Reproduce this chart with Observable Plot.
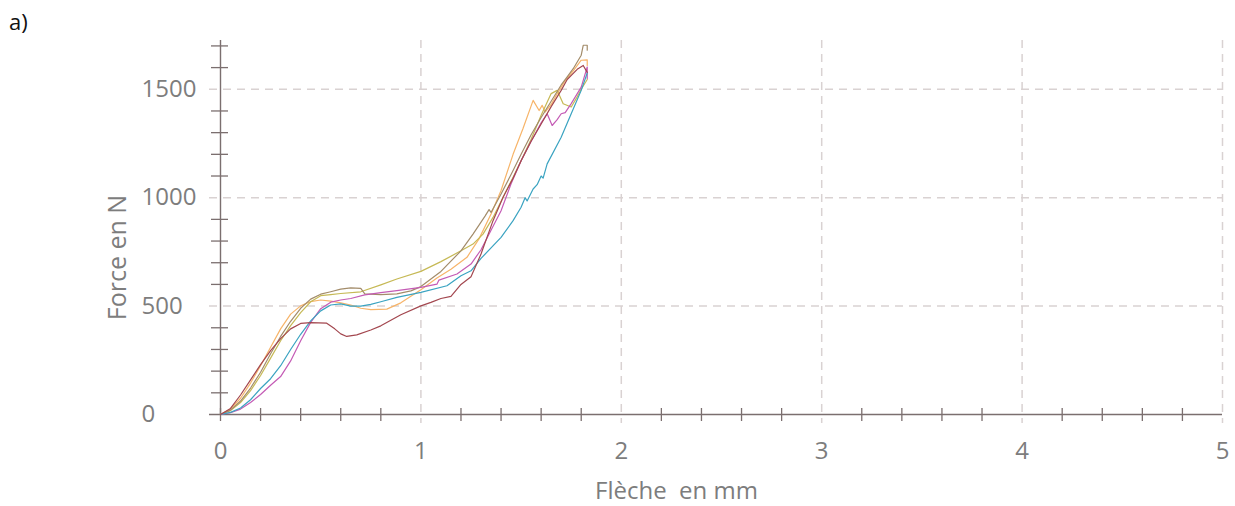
<!DOCTYPE html>
<html>
<head>
<meta charset="utf-8">
<script src="https://cdn.jsdelivr.net/npm/d3@7"></script>
<script src="https://cdn.jsdelivr.net/npm/@observablehq/plot@0.6"></script>
<style>
  html, body { margin: 0; padding: 0; background: #fff; }
  #wrap { position: relative; width: 1235px; height: 506px; }
  #tag { position: absolute; left: 9px; top: 6px; font-family: "Open Sans", sans-serif; font-size: 22px; color: #111; }
  svg text { white-space: pre; }
</style>
</head>
<body>
<div id="wrap"><div id="tag">a)</div></div>
<script>
// ---- data (Flèche en mm, Force en N) ----
const xTicks = [0, 1, 2, 3, 4, 5];
const xGrid = [1, 2, 3, 4, 5];
const xMinorTicks = [0, 0.2, 0.4, 0.6, 0.8, 1.2, 1.4, 1.6, 1.8, 2.2, 2.4, 2.6, 2.8, 3.2, 3.4, 3.6, 3.8, 4.2, 4.4, 4.6, 4.8];
const yTicks = [0, 500, 1000, 1500];
const yGrid = [500, 1000, 1500];
const yMinorTicks = [100, 200, 300, 400, 600, 700, 800, 900, 1100, 1200, 1300, 1400, 1600, 1700];

const curveOrange = [[0,0],[0.05,25],[0.1,75],[0.15,145],[0.2,225],[0.25,310],[0.3,395],[0.35,463],[0.4,501],[0.45,521],[0.5,528],[0.55,523],[0.6,515],[0.65,505],[0.7,490],[0.75,484],[0.83,486],[0.9,515],[0.95,545],[1.0,575],[1.08,630],[1.15,670],[1.23,725],[1.29,810],[1.35,925],[1.4,1033],[1.46,1200],[1.51,1320],[1.56,1449],[1.59,1402],[1.605,1426],[1.62,1395],[1.65,1430],[1.68,1480],[1.72,1540],[1.76,1585],[1.8,1634],[1.83,1636],[1.83,1610]];
const curveOlive = [[0,0],[0.05,18],[0.1,55],[0.15,110],[0.2,180],[0.25,260],[0.3,340],[0.35,410],[0.4,470],[0.45,520],[0.5,548],[0.55,553],[0.6,558],[0.7,566],[0.8,598],[0.88,625],[1.0,660],[1.1,705],[1.2,755],[1.26,786],[1.31,832],[1.36,909],[1.41,1002],[1.46,1094],[1.5,1170],[1.55,1270],[1.6,1380],[1.65,1480],[1.68,1495],[1.71,1433],[1.75,1418],[1.78,1465],[1.8,1500],[1.83,1545]];
const curveBrown = [[0,0],[0.05,20],[0.1,62],[0.15,122],[0.2,195],[0.25,280],[0.3,360],[0.35,430],[0.4,490],[0.45,532],[0.5,555],[0.55,566],[0.6,578],[0.65,584],[0.7,582],[0.72,556],[0.8,553],[0.88,556],[0.95,570],[1.0,590],[1.1,660],[1.2,755],[1.26,832],[1.32,915],[1.34,945],[1.35,932],[1.4,1017],[1.46,1125],[1.5,1200],[1.55,1290],[1.6,1370],[1.65,1445],[1.7,1520],[1.73,1557],[1.76,1595],[1.8,1657],[1.81,1703],[1.83,1703],[1.83,1680]];
const curveMagenta = [[0,0],[0.05,8],[0.1,25],[0.15,55],[0.2,92],[0.25,135],[0.3,175],[0.35,247],[0.4,340],[0.45,425],[0.5,488],[0.55,518],[0.6,528],[0.65,535],[0.72,552],[0.8,562],[0.88,571],[1.0,586],[1.08,601],[1.09,620],[1.18,648],[1.25,694],[1.3,760],[1.35,850],[1.4,940],[1.45,1064],[1.5,1170],[1.55,1260],[1.6,1345],[1.63,1387],[1.655,1333],[1.68,1360],[1.7,1387],[1.72,1392],[1.75,1434],[1.8,1510],[1.83,1603],[1.83,1550]];
const curveTeal = [[0,0],[0.05,10],[0.1,30],[0.15,68],[0.2,120],[0.25,165],[0.3,225],[0.35,300],[0.4,370],[0.45,432],[0.5,478],[0.55,505],[0.6,510],[0.65,500],[0.7,500],[0.75,508],[0.8,520],[0.88,540],[1.0,563],[1.13,594],[1.2,640],[1.25,663],[1.3,720],[1.4,817],[1.46,894],[1.5,956],[1.52,1000],[1.53,985],[1.56,1040],[1.58,1060],[1.6,1100],[1.61,1090],[1.63,1156],[1.7,1279],[1.75,1387],[1.8,1495],[1.83,1575]];
const curveMaroon = [[0,0],[0.05,28],[0.1,90],[0.15,160],[0.2,230],[0.25,295],[0.3,350],[0.35,395],[0.4,420],[0.45,424],[0.53,421],[0.57,395],[0.6,372],[0.63,360],[0.68,367],[0.75,390],[0.8,409],[0.9,460],[1.0,501],[1.05,517],[1.1,535],[1.15,545],[1.2,600],[1.25,635],[1.3,740],[1.36,894],[1.41,1002],[1.46,1090],[1.5,1170],[1.55,1260],[1.6,1340],[1.65,1420],[1.7,1495],[1.73,1545],[1.78,1592],[1.81,1610],[1.83,1578]];

const seriesNames = ["essai 1", "essai 2", "essai 3", "essai 4", "essai 5", "essai 6"];
const seriesColors = ["#f7b469", "#c6b955", "#a38c6a", "#c45bb5", "#3aa3c1", "#a3474f"];
const seriesData = [curveOrange, curveOlive, curveBrown, curveMagenta, curveTeal, curveMaroon];

const rows = seriesData.flatMap((s, i) => s.map(([x, y]) => ({series: seriesNames[i], x, y})));

const axisColor = "#7b6f6f";
const gridColor = "#d9d2d2";
const labelColor = "#7d7d7d";
const font = "Open Sans, sans-serif";

const chart = Plot.plot({
  width: 1235,
  height: 506,
  marginLeft: 220,
  marginRight: 13,
  marginTop: 40,
  marginBottom: 92,
  style: {fontFamily: font, background: "transparent", overflow: "visible"},
  x: {domain: [0, 5], axis: null},
  y: {domain: [0, 1725], axis: null},
  color: {domain: seriesNames, range: seriesColors},
  marks: [
    Plot.ruleY(yGrid, {stroke: gridColor, strokeWidth: 1.5, strokeDasharray: "8,6", insetLeft: -11}),
    Plot.ruleX(xGrid, {stroke: gridColor, strokeWidth: 1.5, strokeDasharray: "8,6", insetBottom: -9}),
    Plot.ruleY(yMinorTicks, {x1: 0, x2: 0, insetLeft: -9, insetRight: -8, stroke: axisColor, strokeWidth: 1.3}),
    Plot.ruleX(xMinorTicks, {y1: 0, y2: 0, insetTop: -6, insetBottom: -7, stroke: axisColor, strokeWidth: 1.3}),
    Plot.ruleX([0], {stroke: axisColor, strokeWidth: 1.4}),
    Plot.ruleY([0], {stroke: axisColor, strokeWidth: 1.4, insetLeft: -11}),
    Plot.line(rows, {x: "x", y: "y", z: "series", stroke: "series", strokeWidth: 1.2, curve: "linear"}),
    Plot.text(yTicks, {x: 0, y: d => d, text: d => String(d), dx: -79, textAnchor: "start", fill: labelColor, fontSize: 24}),
    Plot.text(xTicks, {x: d => d, y: 0, text: d => String(d), dy: 37, fill: labelColor, fontSize: 24}),
    Plot.text(["Force en N"], {frameAnchor: "left", textAnchor: "middle", lineAnchor: "middle", rotate: -90, dx: -103, dy: 30, fill: labelColor, fontSize: 25}),
    Plot.text(["Flèche  en mm"], {frameAnchor: "bottom", textAnchor: "middle", lineAnchor: "middle", dx: -45, dy: 77, fill: labelColor, fontSize: 24})
  ]
});
document.getElementById("wrap").appendChild(chart);
chart.style.position = "absolute";
chart.style.left = "0px";
chart.style.top = "0px";
</script>
</body>
</html>
